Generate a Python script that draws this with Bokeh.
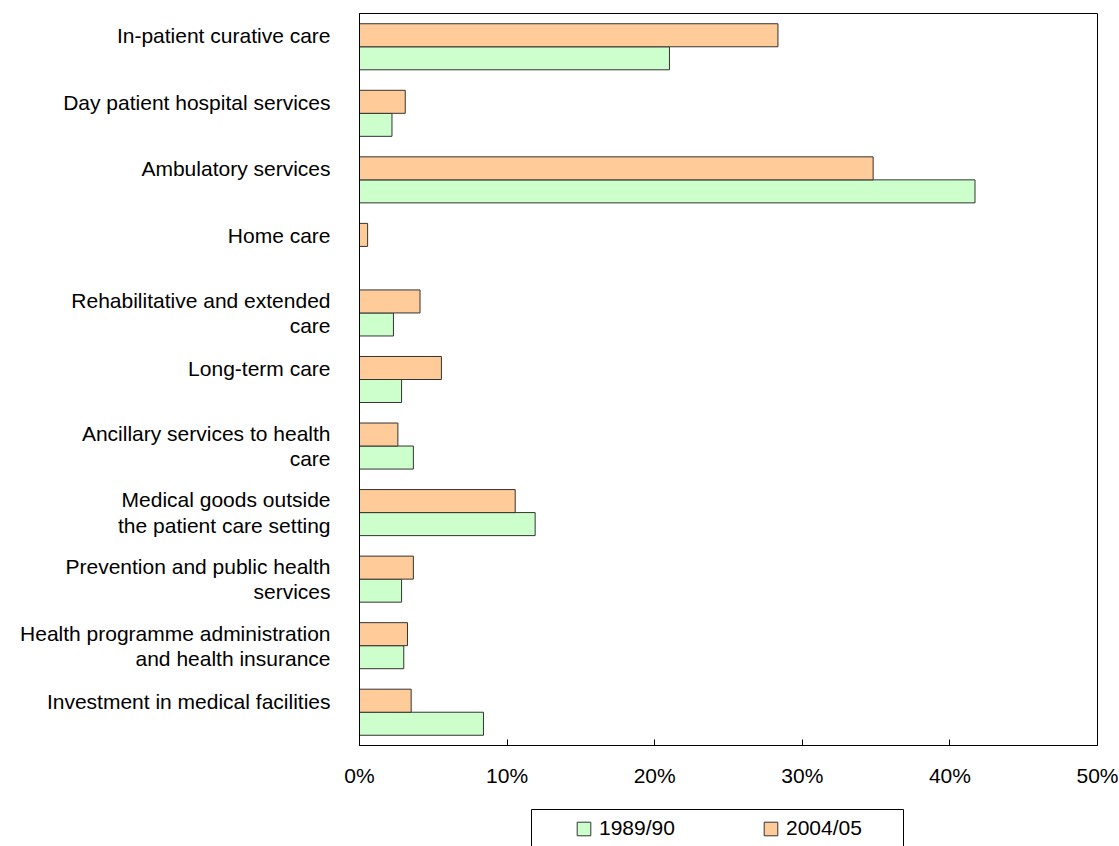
from bokeh.plotting import figure
from bokeh.layouts import column
from bokeh.models import (Range1d, FixedTicker, CustomJSTickFormatter, PrintfTickFormatter,
                          Legend, LegendItem, ColumnDataSource)
from bokeh.embed import file_html
from bokeh.resources import INLINE

categories = [
    "In-patient curative care",
    "Day patient hospital services",
    "Ambulatory services",
    "Home care",
    "Rehabilitative and extended\ncare",
    "Long-term care",
    "Ancillary services to health\ncare",
    "Medical goods outside\nthe patient care setting",
    "Prevention and public health\nservices",
    "Health programme administration\nand health insurance",
    "Investment in medical facilities",
]
share_1989_90 = [21.0, 2.2, 41.7, 0.0, 2.3, 2.85, 3.65, 11.9, 2.85, 3.0, 8.4]
share_2004_05 = [28.35, 3.1, 34.8, 0.55, 4.1, 5.55, 2.6, 10.55, 3.65, 3.25, 3.5]
series_names = ["1989/90", "2004/05"]
x_ticks = [0, 10, 20, 30, 40, 50]

FONT = "Liberation Sans"
GREEN = "#CCFFCC"
ORANGE = "#FFCC99"
EDGE = "#333333"
n = len(categories)
idx = list(range(n))
bar_h = 0.346

FRAME_L, FRAME_R = 359, 1097   # plot frame edges in page pixels

src_old = ColumnDataSource(dict(y=[i + bar_h / 2 for i in idx], v=share_1989_90))
src_new = ColumnDataSource(dict(y=[i - bar_h / 2 for i in idx], v=share_2004_05))

p = figure(width=1119, height=790, output_backend="svg", toolbar_location=None,
           x_range=Range1d(0, 50), y_range=Range1d(n - 0.5, -0.5),
           min_border_left=FRAME_L, min_border_right=1119 - FRAME_R,
           min_border_top=13, min_border_bottom=45)

p.hbar(y="y", right="v", left=0, height=bar_h, source=src_old,
       fill_color=GREEN, line_color=EDGE, line_width=1)
p.hbar(y="y", right="v", left=0, height=bar_h, source=src_new,
       fill_color=ORANGE, line_color=EDGE, line_width=1)

p.xgrid.visible = False
p.ygrid.visible = False
p.outline_line_color = "black"
p.outline_line_width = 1
p.outline_line_alpha = 1

# x axis
xa = p.xaxis[0]
xa.ticker = FixedTicker(ticks=x_ticks)
xa.formatter = PrintfTickFormatter(format="%d%%")
xa.major_tick_in = 6
xa.major_tick_out = 0
xa.minor_tick_line_color = None
xa.axis_line_color = "black"
xa.major_tick_line_color = "black"
xa.major_label_text_font = FONT
xa.major_label_text_font_size = "21px"
xa.major_label_text_color = "black"
xa.major_label_standoff = 18

# y axis: label positions (single-line labels sit a bit above band centre)
label_pos = [i if "\n" in c else i - 0.165 for i, c in zip(idx, categories)]
ya = p.yaxis[0]
ya.ticker = FixedTicker(ticks=label_pos)
ya.formatter = CustomJSTickFormatter(args=dict(labels=categories),
                                     code="return labels[Math.round(tick)];")
ya.major_tick_line_color = None
ya.major_tick_out = 0
ya.major_tick_in = 0
ya.minor_tick_line_color = None
ya.axis_line_color = "black"
ya.major_label_text_font = FONT
ya.major_label_text_font_size = "21px"
ya.major_label_text_color = "black"
ya.major_label_text_line_height = 1.1
ya.major_label_standoff = 29

# legend strip below the chart (its frame is aligned with the chart's frame;
# ranges expressed in page pixels)
leg_h = 56
pl = figure(width=1119, height=leg_h, output_backend="svg", toolbar_location=None,
            x_range=Range1d(FRAME_L, FRAME_R), y_range=Range1d(leg_h, 0),
            min_border=0, min_border_left=FRAME_L, min_border_right=1119 - FRAME_R,
            x_axis_type=None, y_axis_type=None)
pl.outline_line_color = None
pl.xgrid.visible = False
pl.ygrid.visible = False
# legend swatch renderers (tiny, hidden under the legend box; they only supply the glyphs)
g_old = pl.hbar(y=[40], right=[701], left=700, height=1,
                fill_color=GREEN, line_color=EDGE, line_width=1)
g_new = pl.hbar(y=[40], right=[701], left=700, height=1,
                fill_color=ORANGE, line_color=EDGE, line_width=1)
pl.quad(left=[531], right=[903], top=[19], bottom=[leg_h + 20],
        fill_color="white", line_color="black", line_width=1)

legend = Legend(items=[LegendItem(label=series_names[0], renderers=[g_old]),
                       LegendItem(label=series_names[1], renderers=[g_new])],
                orientation="horizontal", location=(216, 6), padding=0, margin=0,
                spacing=55, label_width=108, label_standoff=7,
                glyph_width=17, glyph_height=17, label_height=17,
                background_fill_alpha=0, border_line_alpha=0,
                label_text_font=FONT, label_text_font_size="21px", label_text_color="black")
pl.add_layout(legend, "center")

open("out.html", "w").write(file_html(column(p, pl, spacing=0), INLINE))
